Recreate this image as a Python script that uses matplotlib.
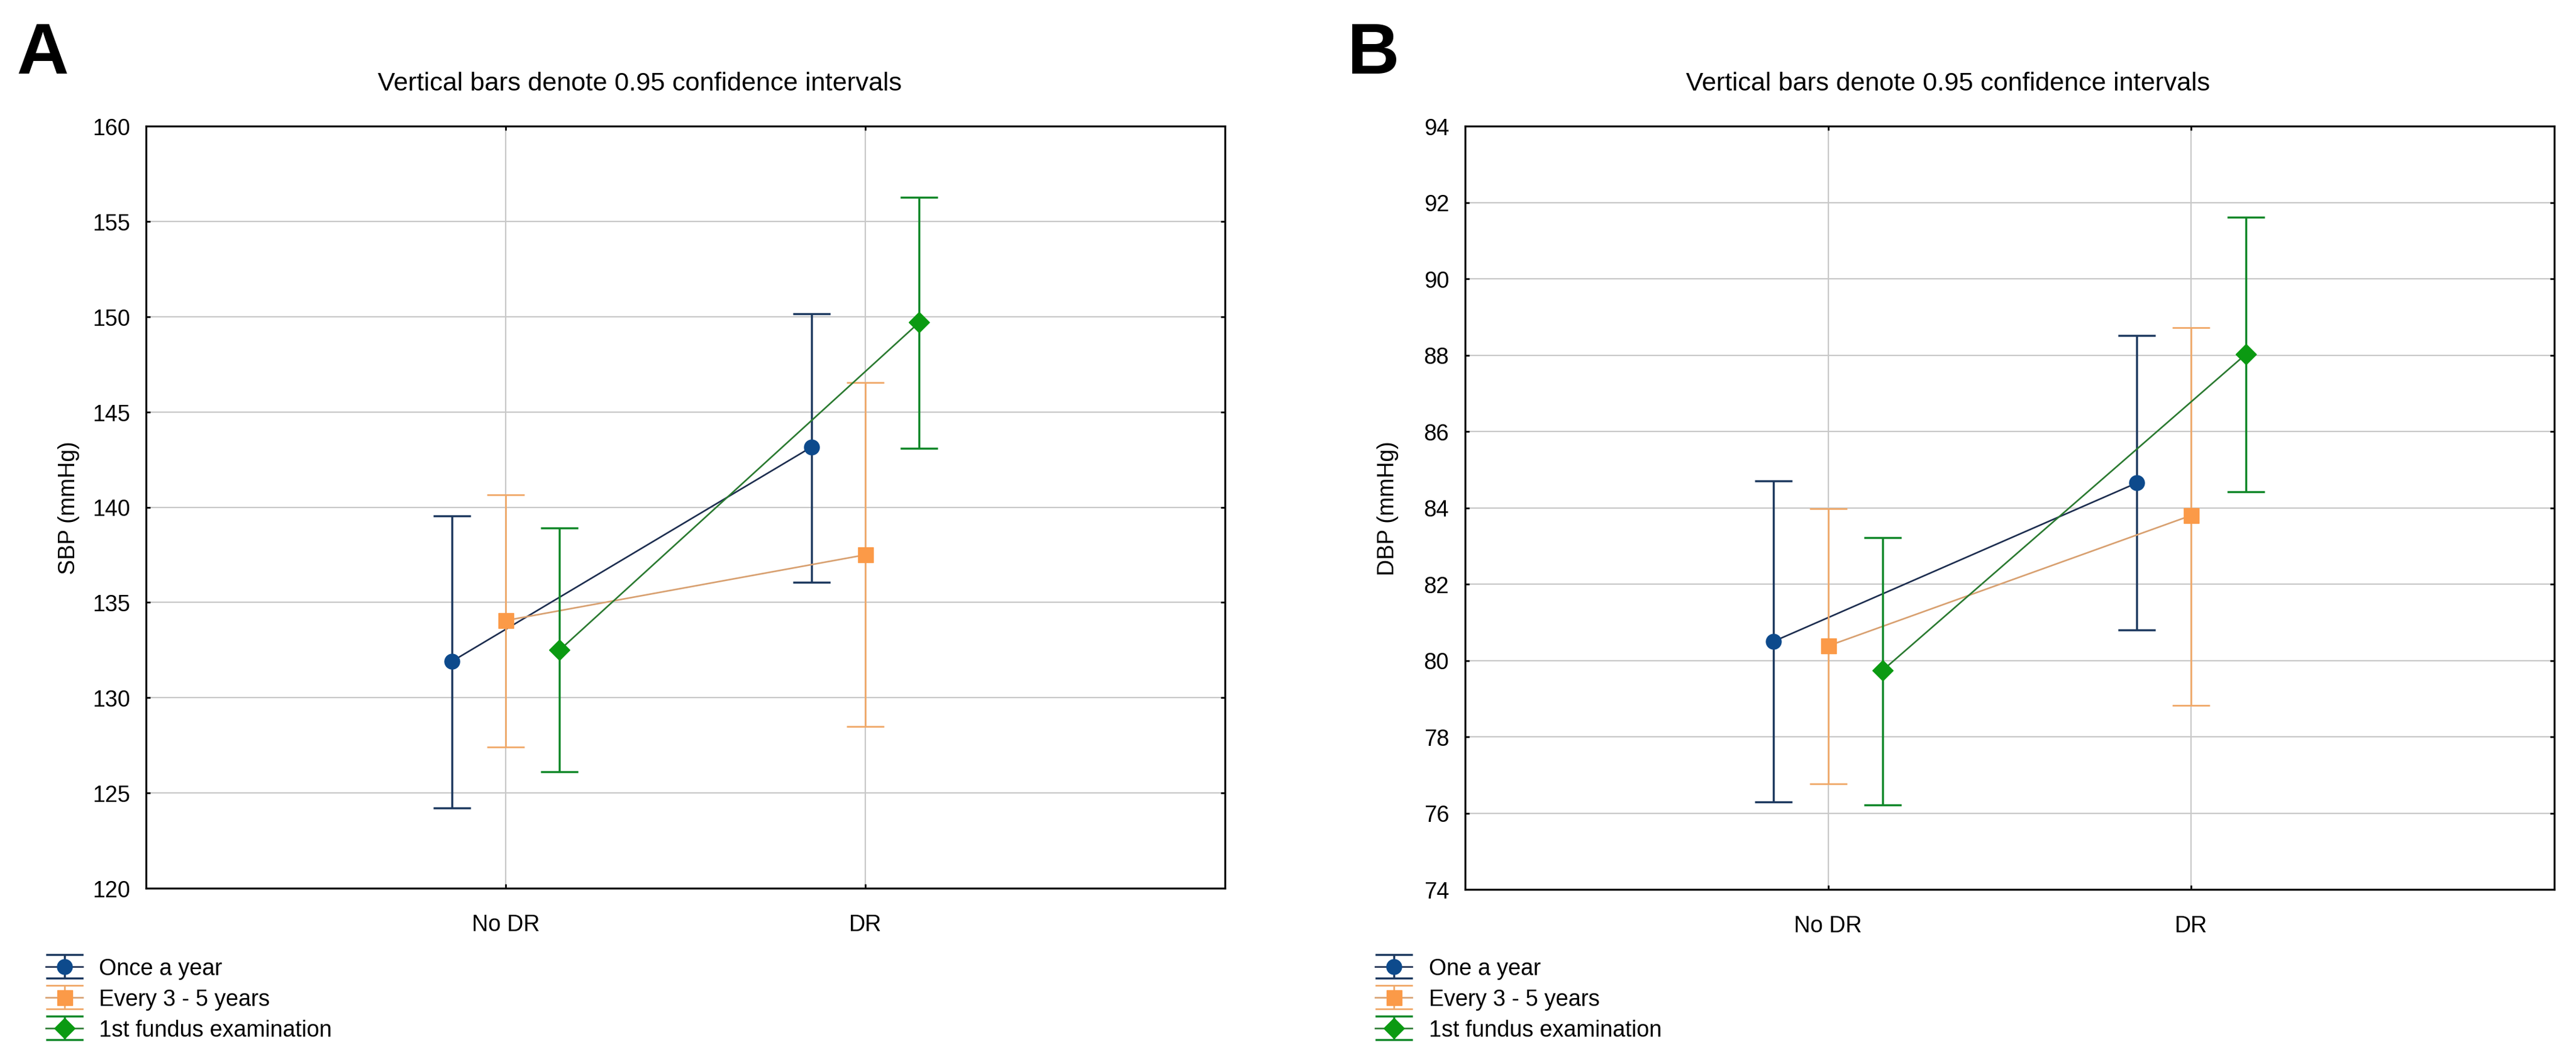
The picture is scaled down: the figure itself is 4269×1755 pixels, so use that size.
import matplotlib
matplotlib.use('Agg')
import matplotlib.pyplot as plt
from matplotlib import font_manager
from matplotlib.container import ErrorbarContainer
from matplotlib.legend_handler import HandlerErrorbar

# ---------------- data ----------------
categories = ['No DR', 'DR']
series_a = ['Once a year', 'Every 3 - 5 years', '1st fundus examination']
series_b = ['One a year', 'Every 3 - 5 years', '1st fundus examination']

# Panel A: SBP (mmHg)
sbp_once_mean = [131.9, 143.15]
sbp_once_lo = [124.2, 136.05]
sbp_once_hi = [139.55, 150.15]
sbp_every_mean = [134.05, 137.5]
sbp_every_lo = [127.4, 128.5]
sbp_every_hi = [140.65, 146.55]
sbp_first_mean = [132.5, 149.7]
sbp_first_lo = [126.1, 143.1]
sbp_first_hi = [138.9, 156.25]

# Panel B: DBP (mmHg)
dbp_once_mean = [80.5, 84.65]
dbp_once_lo = [76.3, 80.8]
dbp_once_hi = [84.7, 88.52]
dbp_every_mean = [80.38, 83.8]
dbp_every_lo = [76.76, 78.82]
dbp_every_hi = [83.97, 88.72]
dbp_first_mean = [79.74, 88.02]
dbp_first_lo = [76.22, 84.42]
dbp_first_hi = [83.22, 91.62]

sbp_ticks = [120, 125, 130, 135, 140, 145, 150, 155, 160]
dbp_ticks = [74, 76, 78, 80, 82, 84, 86, 88, 90, 92, 94]

title_text = 'Vertical bars denote 0.95 confidence intervals'

# ---------------- fonts ----------------
def has_font(name):
    try:
        font_manager.findfont(font_manager.FontProperties(family=name),
                              fallback_to_default=False)
        return True
    except Exception:
        return False

if has_font('Liberation Sans Narrow'):
    FAM = ['Liberation Sans Narrow', 'Liberation Sans', 'DejaVu Sans']
    TITLE_FS = 37
    FS = 30
else:
    FAM = ['Liberation Sans', 'DejaVu Sans']
    TITLE_FS = 31
    FS = 27
plt.rcParams['font.family'] = FAM
FS_PX = FS / 0.72

# ---------------- styles ----------------
styles = [
    dict(marker='o', ms=18, mfc='#0d4a8c', line='#1c2d4f', ecolor='#1e3a60', elw=2.5),
    dict(marker='s', ms=18, mfc='#fb9a48', line='#d8a070', ecolor='#f0a868', elw=2.0),
    dict(marker='D', ms=17, mfc='#0b9a12', line='#2a7a30', ecolor='#12882a', elw=2.5),
]
offsets = [-0.15, 0.0, 0.15]

W, H = 4269, 1756
fig = plt.figure(figsize=(W / 100, H / 100), dpi=100)
fig.patch.set_facecolor('white')


def px_axes(left, top, right, bottom):
    return fig.add_axes([left / W, 1 - bottom / H, (right - left) / W, (bottom - top) / H])


def draw_panel(ax, means, los, his, names, ticks, ylabel):
    xs_base = [1, 2]
    handles = []
    for i in range(3):
        xs = [x + offsets[i] for x in xs_base]
        m = means[i]
        yerr = [[m[k] - los[i][k] for k in range(2)], [his[i][k] - m[k] for k in range(2)]]
        st = styles[i]
        h = ax.errorbar(xs, m, yerr=yerr, fmt='-', marker=st['marker'], ms=st['ms'],
                        mfc=st['mfc'], mec=st['mfc'], color=st['line'], lw=1.9,
                        ecolor=st['ecolor'], elinewidth=st['elw'], capsize=22,
                        capthick=st['elw'], label=names[i], zorder=3 + i)
        handles.append(h)
    ax.set_xlim(0, 3)
    ax.set_ylim(ticks[0], ticks[-1])
    ax.set_xticks(xs_base)
    ax.set_xticklabels(categories)
    ax.set_yticks(ticks)
    ax.set_yticklabels([str(t) for t in ticks])
    ax.grid(True, color='#c8c8c8', linewidth=1.6, zorder=0)
    ax.set_axisbelow(True)
    for s in ax.spines.values():
        s.set_linewidth(2.3)
        s.set_color('black')
    ax.tick_params(axis='both', which='both', direction='in', length=5, width=2,
                   top=True, right=True, labelsize=FS, colors='black')
    ax.tick_params(axis='y', pad=19)
    ax.tick_params(axis='x', pad=30)
    ax.set_ylabel(ylabel, fontsize=FS)
    ax.yaxis.set_label_coords(-0.0615, 0.5)
    return handles


# Panel A
axA = px_axes(242, 210, 2030, 1473)
hA = draw_panel(axA,
                [sbp_once_mean, sbp_every_mean, sbp_first_mean],
                [sbp_once_lo, sbp_every_lo, sbp_first_lo],
                [sbp_once_hi, sbp_every_hi, sbp_first_hi],
                series_a, sbp_ticks, 'SBP (mmHg)')

# Panel B
axB = px_axes(2428, 210, 4233, 1475)
hB = draw_panel(axB,
                [dbp_once_mean, dbp_every_mean, dbp_first_mean],
                [dbp_once_lo, dbp_every_lo, dbp_first_lo],
                [dbp_once_hi, dbp_every_hi, dbp_first_hi],
                series_b, dbp_ticks, 'DBP (mmHg)')
axB.yaxis.set_label_coords(-0.0615 * 1788 / 1805, 0.5)

# titles
fig.text(1060 / W, 1 - 150 / H, title_text, ha='center', va='baseline', fontsize=TITLE_FS)
fig.text(3228 / W, 1 - 150 / H, title_text, ha='center', va='baseline', fontsize=TITLE_FS)

# panel letters
fig.text(27 / W, 1 - 122 / H, 'A', ha='left', va='baseline', fontsize=86,
         fontweight='bold', family=['Liberation Sans', 'DejaVu Sans'])
fig.text(2233 / W, 1 - 122 / H, 'B', ha='left', va='baseline', fontsize=86,
         fontweight='bold', family=['Liberation Sans', 'DejaVu Sans'])

# legends
hmap = {ErrorbarContainer: HandlerErrorbar(xerr_size=0.5, yerr_size=19.5 / FS_PX)}
for ax, hs, names, lx in [(axA, hA, series_a, 76), (axB, hB, series_b, 2279)]:
    ax.legend(hs, names, loc='upper left', bbox_to_anchor=(lx / W, 1 - 1588 / H),
              bbox_transform=fig.transFigure, frameon=False, fontsize=FS,
              handlelength=61 / FS_PX, handletextpad=27.5 / FS_PX, labelspacing=0.4,
              borderpad=0, borderaxespad=0, handler_map=hmap, numpoints=1)

fig.savefig('out.png', dpi=100, facecolor='white')
